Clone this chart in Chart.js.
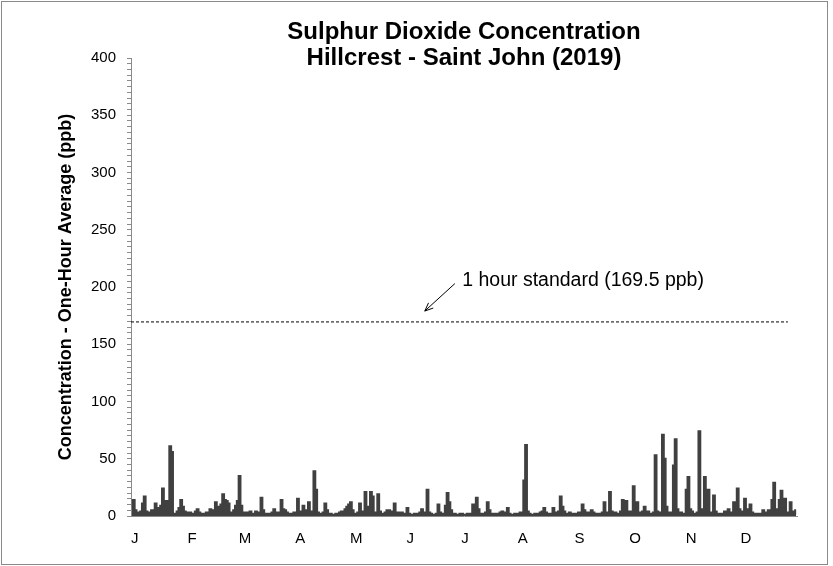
<!DOCTYPE html>
<html>
<head>
<meta charset="utf-8">
<script src="https://cdn.jsdelivr.net/npm/chart.js@4.4.1/dist/chart.umd.min.js"></script>
<style>
    html, body { margin: 0; padding: 0; background: #fff; }
    #wrap { position: absolute; left: 1px; top: 1px; width: 825px; height: 562px; border: 1px solid #8a8a8a; }
    canvas { display: block; }
</style>
</head>
<body>
<div id="wrap"><canvas id="so2Chart" width="825" height="562"></canvas></div>
<script>
// daily peak one-hour SO2 (ppb)
const jan = [8, 14, 5, 3, 2, 4, 11, 17, 4, 2, 3, 5, 4, 11, 6, 7, 9, 24, 6, 13, 3, 61, 56, 2, 1, 4, 7, 14, 8, 4, 3];
const feb = [2, 3, 2, 2, 4, 6, 3, 2, 2, 2, 3, 2, 6, 3, 5, 12, 4, 8, 10, 19, 14, 13, 11, 3, 2, 5, 9, 13];
const mar = [35, 9, 3, 2, 3, 2, 4, 2, 2, 4, 3, 2, 16, 5, 2, 2, 2, 2, 3, 6, 3, 2, 3, 14, 6, 5, 3, 2, 2, 2, 3];
const apr = [3, 15, 4, 2, 9, 5, 3, 12, 4, 2, 39, 23, 3, 2, 2, 3, 11, 5, 2, 2, 1, 1, 2, 2, 3, 4, 3, 6, 8, 10];
const may = [12, 5, 2, 2, 3, 11, 4, 3, 21, 8, 6, 21, 17, 3, 2, 19, 4, 2, 2, 3, 5, 5, 4, 2, 11, 3, 3, 2, 3, 2, 2];
const jun = [7, 2, 1, 1, 2, 2, 2, 3, 6, 3, 2, 23, 3, 2, 1, 1, 2, 10, 3, 2, 2, 9, 20, 12, 5, 2, 2, 1, 1, 2];
const jul = [2, 1, 1, 2, 2, 2, 10, 5, 16, 6, 2, 2, 2, 3, 12, 5, 2, 2, 1, 2, 2, 3, 4, 3, 2, 7, 2, 1, 1, 2, 2];
const aug = [2, 3, 2, 31, 62, 4, 2, 1, 1, 2, 2, 2, 3, 4, 7, 3, 2, 1, 2, 7, 3, 2, 4, 17, 8, 4, 2, 2, 3, 2, 2];
const sep = [2, 2, 3, 3, 10, 5, 3, 2, 3, 5, 3, 2, 1, 2, 2, 3, 12, 2, 3, 21, 4, 2, 3, 2, 2, 4, 14, 5, 13, 3];
const oct = [4, 3, 26, 4, 12, 3, 2, 4, 8, 3, 4, 2, 2, 3, 53, 4, 2, 3, 71, 50, 8, 3, 2, 3, 44, 67, 6, 2, 3, 2, 2];
const nov = [23, 34, 6, 4, 2, 2, 3, 74, 6, 3, 34, 4, 23, 3, 3, 18, 4, 2, 1, 2, 2, 4, 3, 6, 3, 2, 12, 3, 24, 6];
const dec = [4, 3, 15, 6, 3, 10, 3, 2, 2, 1, 2, 2, 5, 2, 3, 5, 2, 14, 29, 6, 3, 14, 22, 8, 15, 3, 3, 12, 4, 2, 5];

const monthLabels = ['J', 'F', 'M', 'A', 'M', 'J', 'J', 'A', 'S', 'O', 'N', 'D'];
const monthStarts = [0, 31, 59, 90, 120, 151, 181, 212, 243, 273, 304, 334];
const yTicks = [0, 50, 100, 150, 200, 250, 300, 350, 400];

const standard = 169.5;
const standardEnd = 360;
const noteText = '1 hour standard (169.5 ppb)';

const font = '"Liberation Sans", Arial, sans-serif';

const daily = [jan, feb, mar, apr, may, jun, jul, aug, sep, oct, nov, dec].flat();
const points = daily.map((v, i) => ({ x: i + 0.5, y: v }));

const decorations = {
    id: 'decorations',
    afterDatasetsDraw(chart) {
        const { ctx, chartArea, scales: { x, y } } = chart;
        ctx.save();

        // title, centred over the plot area
        ctx.fillStyle = '#000';
        ctx.textAlign = 'center';
        ctx.textBaseline = 'middle';
        ctx.font = 'bold 24px ' + font;
        const cx = (chartArea.left + chartArea.right) / 2;
        ctx.fillText('Sulphur Dioxide Concentration', cx, 30);
        ctx.fillText('Hillcrest - Saint John (2019)', cx, 56);

        // standard note + arrow
        ctx.font = '19.5px ' + font;
        ctx.textAlign = 'left';
        ctx.fillText(noteText, x.getPixelForValue(181.5), y.getPixelForValue(206));

        const x1 = x.getPixelForValue(177.5), y1 = y.getPixelForValue(203);
        const x2 = x.getPixelForValue(161), y2 = y.getPixelForValue(179);
        ctx.strokeStyle = '#000';
        ctx.lineWidth = 1;
        ctx.beginPath();
        ctx.moveTo(x1, y1);
        ctx.lineTo(x2, y2);
        const ang = Math.atan2(y2 - y1, x2 - x1);
        const head = 9;
        ctx.moveTo(x2 - head * Math.cos(ang - 0.4), y2 - head * Math.sin(ang - 0.4));
        ctx.lineTo(x2, y2);
        ctx.lineTo(x2 - head * Math.cos(ang + 0.4), y2 - head * Math.sin(ang + 0.4));
        ctx.stroke();
        ctx.restore();
    }
};

new Chart(document.getElementById('so2Chart'), {
    type: 'line',
    data: {
        datasets: [
            {
                data: points,
                borderColor: '#404040',
                backgroundColor: '#404040',
                borderWidth: 2,
                fill: 'origin',
                pointRadius: 0,
                stepped: 'middle',
            },
            {
                data: [{ x: 0, y: standard }, { x: standardEnd, y: standard }],
                borderColor: '#000',
                borderWidth: 1,
                borderDash: [3, 2],
                fill: false,
                pointRadius: 0,
            },
        ],
    },
    options: {
        responsive: false,
        animation: false,
        layout: { padding: { left: 4, right: 30, top: 56, bottom: 4 } },
        plugins: {
            legend: { display: false },
            tooltip: { enabled: false },
        },
        scales: {
            x: {
                type: 'linear',
                min: 0,
                max: 365,
                afterFit: (scale) => { scale.height = 44; },
                afterBuildTicks: (scale) => { scale.ticks = monthStarts.map(v => ({ value: v })); },
                grid: { display: false, drawTicks: false },
                border: { display: true, color: '#8a8a8a', width: 1 },
                ticks: {
                    autoSkip: false,
                    maxRotation: 0,
                    align: 'start',
                    padding: 14,
                    color: '#000',
                    font: { family: font, size: 15 },
                    callback: (v) => monthLabels[monthStarts.indexOf(v)],
                },
            },
            y: {
                min: 0,
                max: 400,
                afterFit: (scale) => { scale.width = 125; },
                grid: { drawOnChartArea: false, drawTicks: true, tickLength: 4, color: '#8a8a8a' },
                border: { display: true, color: '#8a8a8a', width: 1 },
                ticks: {
                    stepSize: 5,
                    autoSkip: false,
                    padding: 11,
                    color: '#000',
                    font: { family: font, size: 15 },
                    callback: (v) => yTicks.includes(v) ? v : '',
                },
                title: {
                    display: true,
                    text: 'Concentration - One-Hour Average (ppb)',
                    color: '#000',
                    font: { family: font, size: 18, weight: 'bold' },
                    padding: { top: 49, bottom: 0 },
                },
            },
        },
    },
    plugins: [decorations],
});
</script>
</body>
</html>
